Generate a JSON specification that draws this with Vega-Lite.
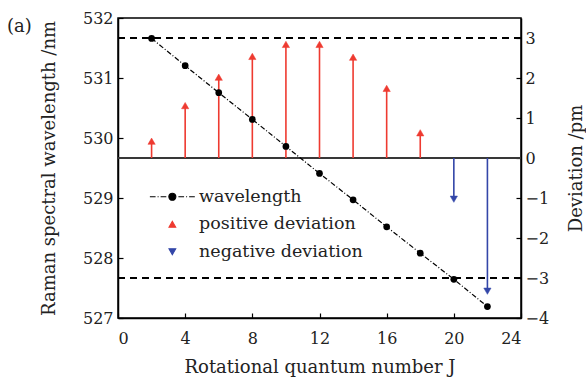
{
  "$schema": "https://vega.github.io/schema/vega-lite/v6.json",
  "width": 403,
  "height": 300,
  "autosize": {"type": "none"},
  "padding": {"left": 118, "top": 18, "right": 65, "bottom": 59},
  "background": "white",
  "title": {"text": "(a)", "anchor": "start", "frame": "group", "orient": "top", "dx": -111, "dy": 40, "offset": 0, "baseline": "alphabetic", "font": "DejaVu Serif", "fontSize": 18, "fontWeight": "normal", "color": "#222"},
  "config": {
    "font": "DejaVu Serif",
    "view": {"stroke": "black", "strokeWidth": 1.5},
    "axis": {"domainColor": "black", "domainWidth": 1.5, "tickColor": "black", "tickWidth": 1.2, "tickSize": -5, "labelFont": "DejaVu Serif", "titleFont": "DejaVu Serif", "labelFontSize": 16, "labelColor": "#222", "titleFontSize": 18, "titleFontWeight": "normal", "titleColor": "#222", "grid": false},
    "legend": {"labelFont": "DejaVu Serif"}
  },
  "datasets": {
    "wl": [
      {"J": 2, "wl": 531.66}, {"J": 4, "wl": 531.205}, {"J": 6, "wl": 530.755}, {"J": 8, "wl": 530.31},
      {"J": 10, "wl": 529.86}, {"J": 12, "wl": 529.41}, {"J": 14, "wl": 528.97}, {"J": 16, "wl": 528.52},
      {"J": 18, "wl": 528.08}, {"J": 20, "wl": 527.645}, {"J": 22, "wl": 527.19}
    ],
    "dev": [
      {"J": 2, "dev": 0.42, "type": "positive deviation"}, {"J": 4, "dev": 1.31, "type": "positive deviation"},
      {"J": 6, "dev": 2.02, "type": "positive deviation"}, {"J": 8, "dev": 2.54, "type": "positive deviation"},
      {"J": 10, "dev": 2.84, "type": "positive deviation"}, {"J": 12, "dev": 2.84, "type": "positive deviation"},
      {"J": 14, "dev": 2.52, "type": "positive deviation"}, {"J": 16, "dev": 1.74, "type": "positive deviation"},
      {"J": 18, "dev": 0.63, "type": "positive deviation"}, {"J": 20, "dev": -1.03, "type": "negative deviation"},
      {"J": 22, "dev": -3.33, "type": "negative deviation"}
    ]
  },
  "layer": [
    {
      "data": {"name": "dev"},
      "layer": [
        {"mark": {"type": "rule", "color": "black", "strokeWidth": 1.1, "strokeDash": [7, 5]}, "encoding": {"y": {"datum": 3, "type": "quantitative"}}},
        {"mark": {"type": "rule", "color": "black", "strokeWidth": 1.1, "strokeDash": [7, 5]}, "encoding": {"y": {"datum": -3, "type": "quantitative"}}},
        {"mark": {"type": "rule", "color": "#383838", "strokeWidth": 2}, "encoding": {"y": {"datum": 0, "type": "quantitative"}}},
        {
          "mark": {"type": "rule", "strokeWidth": 1.6},
          "encoding": {
            "x": {"field": "J", "type": "quantitative", "scale": {"domain": [0, 24], "nice": false}, "axis": {"values": [0, 4, 8, 12, 16, 20, 24], "title": "Rotational quantum number J", "labelFont": "DejaVu Serif", "titleFont": "DejaVu Serif", "labelPadding": 17, "titlePadding": 12}},
            "y": {"field": "dev", "type": "quantitative"},
            "y2": {"datum": 0},
            "color": {"condition": {"test": "datum.dev > 0", "value": "#ee3a30"}, "value": "#3346a8"}
          }
        },
        {
          "mark": {"type": "point", "filled": true, "opacity": 1, "size": 53, "strokeWidth": 0.5},
          "encoding": {
            "x": {"field": "J", "type": "quantitative"},
            "y": {"field": "dev", "type": "quantitative", "scale": {"domain": [-4, 3.5], "nice": false}, "axis": {"orient": "right", "values": [-4, -3, -2, -1, 0, 1, 2, 3], "title": "Deviation /pm", "labelFont": "DejaVu Serif", "titleFont": "DejaVu Serif", "titleAngle": 270, "labelPadding": 9, "titlePadding": 37}},
            "color": {"field": "type", "type": "nominal", "scale": {"domain": ["wavelength", "positive deviation", "negative deviation"], "range": ["black", "#ee3a30", "#3346a8"]},
              "legend": {"orient": "none", "legendX": 45.6, "legendY": 170, "title": null, "padding": 0, "labelFont": "DejaVu Serif", "labelFontSize": 17.5, "labelColor": "#222", "labelLimit": 0, "symbolSize": 45, "symbolOffset": 0, "labelOffset": 18, "rowPadding": 8.5, "symbolStrokeWidth": 1.1, "symbolOpacity": 1}},
            "stroke": {"field": "type", "type": "nominal", "scale": {"domain": ["wavelength", "positive deviation", "negative deviation"], "range": ["black", "#ee3a30", "#3346a8"]},
              "legend": {"orient": "none", "legendX": 45.6, "legendY": 170, "title": null, "padding": 0, "labelFont": "DejaVu Serif", "labelFontSize": 17.5, "labelColor": "#222", "labelLimit": 0, "symbolSize": 45, "symbolOffset": 0, "labelOffset": 18, "rowPadding": 8.5, "symbolStrokeWidth": 1.1, "symbolOpacity": 1}},
            "shape": {"field": "type", "type": "nominal", "scale": {"domain": ["wavelength", "positive deviation", "negative deviation"], "range": ["M-6.7,0H-5M-4.4,0H-4.1M-3.5,0H-1.8M-1.05,0A1.05,1.05,0,1,0,1.05,0A1.05,1.05,0,1,0,-1.05,0ZM1.8,0H3.5M4.1,0H4.4M5,0H6.7", "triangle-up", "triangle-down"]},
              "legend": {"orient": "none", "legendX": 45.6, "legendY": 170, "title": null, "padding": 0, "labelFont": "DejaVu Serif", "labelFontSize": 17.5, "labelColor": "#222", "labelLimit": 0, "symbolSize": 45, "symbolOffset": 0, "labelOffset": 18, "rowPadding": 8.5, "symbolStrokeWidth": 1.1, "symbolOpacity": 1}}
          }
        }
      ]
    },
    {
      "data": {"name": "wl"},
      "layer": [
        {
          "mark": {"type": "line", "color": "black", "strokeWidth": 1.2, "strokeDash": [5, 2, 1, 2]},
          "encoding": {
            "x": {"field": "J", "type": "quantitative"},
            "y": {"field": "wl", "type": "quantitative", "scale": {"domain": [527, 532], "nice": false}, "axis": {"orient": "left", "values": [527, 528, 529, 530, 531, 532], "format": "d", "title": "Raman spectral wavelength /nm", "labelFont": "DejaVu Serif", "titleFont": "DejaVu Serif", "labelPadding": 10, "titlePadding": 24}}
          }
        },
        {
          "mark": {"type": "point", "filled": true, "opacity": 1, "color": "black", "size": 45},
          "encoding": {
            "x": {"field": "J", "type": "quantitative"},
            "y": {"field": "wl", "type": "quantitative"}
          }
        }
      ]
    }
  ],
  "resolve": {"scale": {"y": "independent"}}
}
